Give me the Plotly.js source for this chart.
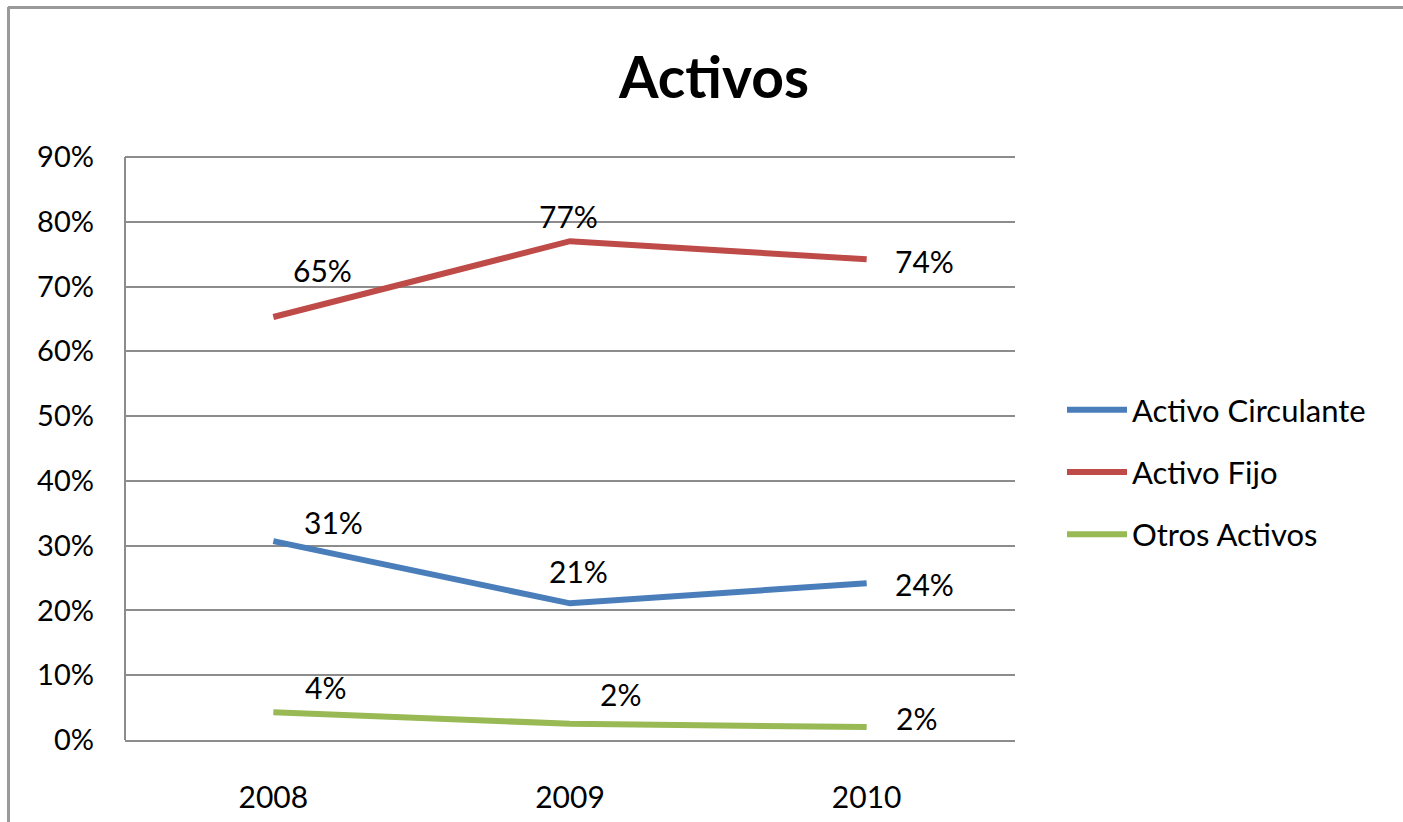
<!DOCTYPE html>
<html>
<head>
<meta charset="utf-8">
<script src="https://cdn.plot.ly/plotly-3.0.1.min.js"></script>
<style>
html,body{margin:0;padding:0;background:#fff;}
#chart{width:1403px;height:822px;}
</style>
</head>
<body>
<div id="chart"></div>
<script>
// ---- data ----
const years = ["2008", "2009", "2010"];
const seriesNames = ["Activo Circulante", "Activo Fijo", "Otros Activos"];
const activoCirculante = [30.7, 21.1, 24.2];
const activoFijo = [65.3, 77.0, 74.2];
const otrosActivos = [4.3, 2.5, 2.0];
const labelsCirculante = ["31%", "21%", "24%"];
const labelsFijo = ["65%", "77%", "74%"];
const labelsOtros = ["4%", "2%", "2%"];
const yTickVals = [0, 10, 20, 30, 40, 50, 60, 70, 80, 90];
const yTickText = ["0%", "10%", "20%", "30%", "40%", "50%", "60%", "70%", "80%", "90%"];

// ---- styles ----
const FONT = "Lato, 'Noto Sans', sans-serif";
const colors = ["#4a7ebb", "#be4b48", "#98b954"];
// label offsets (pixels) per series per point
const labelOffsets = [
  [[60, 19], [8, 32], [58, -1]],
  [[49, 47], [-2, 25], [58, -2]],
  [[52, 25], [50, 30], [50, 9]]
];

const seriesValues = [activoCirculante, activoFijo, otrosActivos];
const seriesLabels = [labelsCirculante, labelsFijo, labelsOtros];

const traces = seriesValues.map((v, i) => ({
  type: "scatter",
  mode: "lines",
  x: years,
  y: v,
  name: seriesNames[i],
  legendgroup: "g" + i,
  line: {color: colors[i], width: 6},
  hoverinfo: "skip"
}));

const annotations = [];
seriesValues.forEach((v, i) => {
  v.forEach((val, j) => {
    annotations.push({
      x: j, y: val, xref: "x", yref: "y",
      text: seriesLabels[i][j], showarrow: false,
      xanchor: "center", yanchor: "middle",
      xshift: labelOffsets[i][j][0], yshift: labelOffsets[i][j][1],
      font: {family: FONT, size: 30, color: "#000"}
    });
  });
});

const W = 1403, H = 822;
const L = 125, R = 1015, B = 740, TOP90 = 157, PAD = 3;
const pxPerUnit = (B - TOP90) / 90;
const T = TOP90 - PAD;
const yMax = 90 + PAD / pxPerUnit;
const px = p => (p - L) / (R - L);
const py = p => (B - p) / (B - T);

const layout = {
  width: W, height: H,
  margin: {l: L, r: W - R, t: T, b: H - B, pad: 0},
  paper_bgcolor: "#fff", plot_bgcolor: "#fff",
  showlegend: true,
  title: {
    text: "<b>Activos</b>",
    font: {family: FONT, size: 57, color: "#000"},
    xref: "container", x: 714 / W, xanchor: "center",
    yref: "container", y: 1 - 78 / H, yanchor: "middle"
  },
  xaxis: {
    type: "category",
    range: [-0.5, 2.5],
    showgrid: false, zeroline: false,
    showline: true, linecolor: "#8c8c8c", linewidth: 2,
    ticks: "", ticklabelstandoff: 30,
    tickfont: {family: FONT, size: 30, color: "#000"},
    fixedrange: true
  },
  yaxis: {
    range: [0, yMax],
    tickvals: yTickVals, ticktext: yTickText,
    showgrid: true, gridcolor: "#8c8c8c", gridwidth: 2,
    zeroline: false,
    showline: false,
    ticks: "", ticklabelstandoff: 30,
    tickfont: {family: FONT, size: 29, color: "#000"},
    fixedrange: true
  },
  legend: {
    x: px(1062), xanchor: "left",
    y: py(472), yanchor: "middle",
    font: {family: FONT, size: 31, color: "#000"},
    tracegroupgap: 19,
    bgcolor: "rgba(0,0,0,0)",
    itemwidth: 60
  },
  annotations: annotations,
  shapes: [
    {type: "line", xref: "paper", yref: "y", x0: 0, x1: 0, y0: 0, y1: 90, line: {color: "#8c8c8c", width: 2}},
    {type: "line", xref: "paper", yref: "paper", x0: px(8), x1: px(1410), y0: py(7.5), y1: py(7.5), line: {color: "#9a9a9a", width: 3}},
    {type: "line", xref: "paper", yref: "paper", x0: px(8.5), x1: px(8.5), y0: py(7), y1: py(830), line: {color: "#9a9a9a", width: 3}}
  ]
};

Plotly.newPlot("chart", traces, layout, {displayModeBar: false, staticPlot: true});
</script>
</body>
</html>
